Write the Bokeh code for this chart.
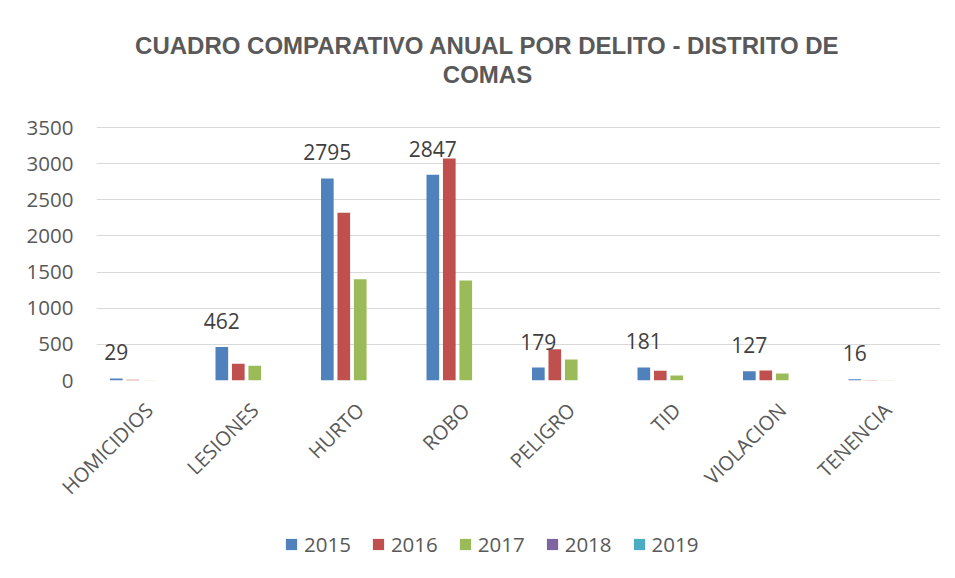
from bokeh.plotting import figure
from bokeh.layouts import column
from bokeh.models import (ColumnDataSource, FactorRange, Range1d, FixedTicker,
                          Legend, LegendItem, LabelSet, Label)
from bokeh.transform import dodge
from bokeh.core.properties import value
from bokeh.embed import file_html
from bokeh.resources import INLINE

categories = ["HOMICIDIOS", "LESIONES", "HURTO", "ROBO", "PELIGRO", "TID", "VIOLACION", "TENENCIA"]
years = ["2015", "2016", "2017", "2018", "2019"]
v2015 = [29, 462, 2795, 2847, 179, 181, 127, 16]
v2016 = [10, 230, 2320, 3070, 433, 136, 138, 8]
v2017 = [4, 203, 1400, 1383, 290, 70, 97, 2]
v2018 = [0, 0, 0, 0, 0, 0, 0, 0]
v2019 = [0, 0, 0, 0, 0, 0, 0, 0]
y_ticks = [0, 500, 1000, 1500, 2000, 2500, 3000, 3500]
colors = ["#4F81BD", "#C0504D", "#9BBB59", "#8064A2", "#4BACC6"]
title_lines = ["CUADRO COMPARATIVO ANUAL POR DELITO - DISTRITO DE", "COMAS"]

W = 955
H_MAIN, H_LEG = 520, 58
TOP, ZERO, LEFT, RIGHT = 127, 380, 96, 940   # pixel geometry of the value area
ymax = y_ticks[-1]
ytop = ymax + ymax * TOP / (ZERO - TOP)      # frame extends up to hold the title

src = ColumnDataSource(dict(cat=categories, y2015=v2015, y2016=v2016, y2017=v2017,
                            y2018=v2018, y2019=v2019,
                            lab=[str(v) for v in v2015]))

p = figure(width=W, height=H_MAIN, x_range=FactorRange(*categories, range_padding=0),
           y_range=Range1d(0, ytop), output_backend="svg", toolbar_location=None,
           min_border_left=LEFT, min_border_right=W - RIGHT, min_border_top=0,
           min_border_bottom=H_MAIN - ZERO)
p.outline_line_color = None
p.background_fill_color = "white"
p.border_fill_color = "white"

pitch = 0.156
bw = 0.12
for i, (yr, col) in enumerate(zip(years, colors)):
    p.vbar(x=dodge("cat", (i - 2) * pitch, range=p.x_range), top="y" + yr, width=bw,
           source=src, fill_color=col, line_color=None)

labels = LabelSet(x=dodge("cat", -2 * pitch, range=p.x_range), y="y2015", text="lab", source=src,
                  text_align="center", text_baseline="bottom", y_offset=18,
                  text_font=value("Open Sans"), text_font_size="21px", text_color="#404040")
p.add_layout(labels)

# axes
p.xgrid.grid_line_color = None
p.ygrid.ticker = FixedTicker(ticks=y_ticks)
p.ygrid.grid_line_color = "#D9D9D9"
p.ygrid.grid_line_width = 1
p.yaxis.ticker = FixedTicker(ticks=y_ticks)
p.yaxis.axis_line_color = None
p.yaxis.major_tick_line_color = None
p.yaxis.minor_tick_line_color = None
p.yaxis.major_tick_out = 0
p.yaxis.major_tick_in = 0
p.yaxis.major_label_standoff = 23
p.yaxis.major_label_text_font = "Open Sans"
p.yaxis.major_label_text_font_size = "20.5px"
p.yaxis.major_label_text_color = "#595959"

p.xaxis.axis_line_color = None
p.xaxis.major_tick_line_color = None
p.xaxis.minor_tick_line_color = None
p.xaxis.major_tick_out = 0
p.xaxis.major_tick_in = 0
p.xaxis.major_label_orientation = 0.785398
p.xaxis.major_label_standoff = 26
p.xaxis.major_label_text_font = "Open Sans"
p.xaxis.major_label_text_font_size = "20px"
p.xaxis.major_label_text_color = "#595959"

# title (screen units relative to the plot frame: x from left, y up from bottom)
for txt, yy in zip(title_lines, [45, 74]):
    p.add_layout(Label(x=487 - LEFT, y=ZERO - yy, x_units="screen", y_units="screen", text=txt,
                       text_align="center", text_baseline="middle",
                       text_font="Liberation Sans", text_font_style="bold",
                       text_font_size="24px", text_color="#595959"))

# legend strip underneath (its frame is aligned with the main frame by the column layout)
lf = figure(width=W, height=H_LEG, x_range=FactorRange(*categories, range_padding=0),
            y_range=Range1d(2 * ytop, 3 * ytop), output_backend="svg",
            toolbar_location=None, x_axis_location=None, y_axis_location=None,
            min_border=0)
lf.outline_line_color = None
lf.xgrid.visible = False
lf.ygrid.visible = False
proxies = [lf.vbar(x="cat", top="y" + yr, width=bw, source=src, fill_color=col, line_color=None)
           for yr, col in zip(years, colors)]
legend = Legend(items=[LegendItem(label=y, renderers=[r]) for y, r in zip(years, proxies)],
                orientation="horizontal", location=(284 - LEFT, 20),
                glyph_width=14, glyph_height=14, label_standoff=6, spacing=20,
                padding=0, margin=0, border_line_color=None, background_fill_alpha=0,
                label_text_font="Open Sans", label_text_font_size="20.5px",
                label_text_color="#595959")
lf.add_layout(legend)

open("out.html", "w").write(file_html(column(p, lf), INLINE))
